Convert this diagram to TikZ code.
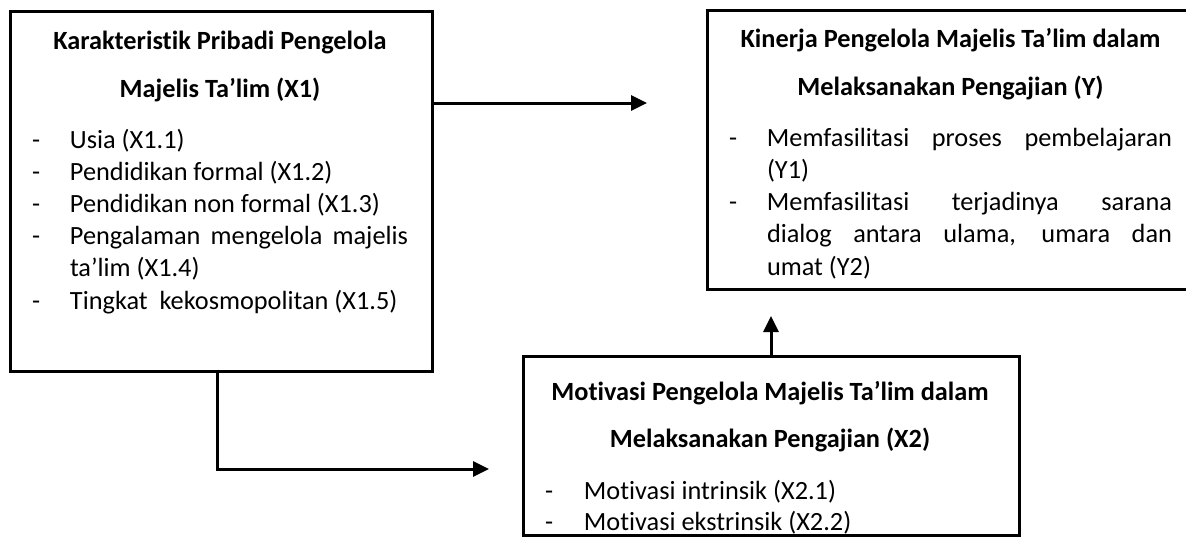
\documentclass[tikz,border=0pt]{standalone}
\usepackage{fontspec}
\setmainfont{Carlito}[Ligatures={NoCommon}]
\usetikzlibrary{arrows.meta}
\newlength{\dashw}
\newcommand{\dashitem}[1]{\hbox to\linewidth{\makebox[\dashw][l]{-}#1\hfil}}
\newcommand{\dashjust}[1]{\hbox to\linewidth{\makebox[\dashw][l]{-}\makebox[\dimexpr\linewidth-\dashw\relax][s]{#1}}}
\newcommand{\contline}[1]{\hbox to\linewidth{\hskip\dashw #1\hfil}}
\newcommand{\contjust}[1]{\hbox to\linewidth{\hskip\dashw\makebox[\dimexpr\linewidth-\dashw\relax][s]{#1}}}
\newcommand{\titleline}[1]{\hbox to\linewidth{\hfil\bfseries #1\hfil}}
\tikzset{
  box/.style={draw, line width=3pt, rectangle, inner sep=0pt},
  txt/.style={inner sep=0pt, outer sep=0pt, anchor=base west, font=\fontsize{26.3}{32}\selectfont},
  arr/.style={line width=3pt, -{Triangle[length=16pt,width=15pt]}}
}
\begin{document}
\begin{tikzpicture}[x=1pt,y=-1pt]
\clip (0,0) rectangle (1186,536);
\fill[white] (0,0) rectangle (1186,536);
% boxes
\node[box, minimum width=422pt, minimum height=360pt] (X1) at (221,191) {};
\node[box, minimum width=485pt, minimum height=279pt] (Y) at (949.5,149.5) {};
\node[box, minimum width=496pt, minimum height=179pt] (X2) at (771,445.5) {};
% texts
\node[txt] (X1text) at (32,49) {\parbox[t]{376pt}{\setlength{\dashw}{38pt}\baselineskip=32.2pt
\titleline{Karakteristik Pribadi Pengelola}
\vskip15.8pt
\titleline{Majelis Ta’lim (X1)}
\vskip18.8pt
\dashitem{Usia (X1.1)}
\dashitem{Pendidikan formal (X1.2)}
\dashitem{Pendidikan non formal (X1.3)}
\dashjust{Pengalaman mengelola majelis}
\contline{ta’lim (X1.4)}
\dashitem{Tingkat\ \ kekosmopolitan (X1.5)}}};
\node[txt] (Ytext) at (729,47) {\parbox[t]{443pt}{\setlength{\dashw}{38pt}\baselineskip=32.25pt
\titleline{Kinerja Pengelola Majelis Ta’lim dalam}
\vskip15.75pt
\titleline{Melaksanakan Pengajian (Y)}
\vskip18.75pt
\dashjust{Memfasilitasi proses pembelajaran}
\contline{(Y1)}
\dashjust{Memfasilitasi terjadinya sarana}
\contjust{dialog antara ulama, umara dan}
\contline{umat (Y2)}}};
\node[txt] (X2text) at (545,400) {\parbox[t]{450pt}{\setlength{\dashw}{39pt}\baselineskip=31pt
\titleline{Motivasi Pengelola Majelis Ta’lim dalam}
\vskip16pt
\titleline{Melaksanakan Pengajian (X2)}
\vskip21pt
\dashitem{Motivasi intrinsik (X2.1)}
\dashitem{Motivasi ekstrinsik (X2.2)}}};
% connectors
\coordinate (a1) at (647,103);
\coordinate (a2) at (489,469);
\coordinate (a3) at (771,316);
\draw[arr] (X1.east |- a1) -- (a1);
\draw[arr] ([xshift=-4pt]X1.south) |- (a2);
\draw[arr] (X2.north) -- (a3);
\end{tikzpicture}
\end{document}
